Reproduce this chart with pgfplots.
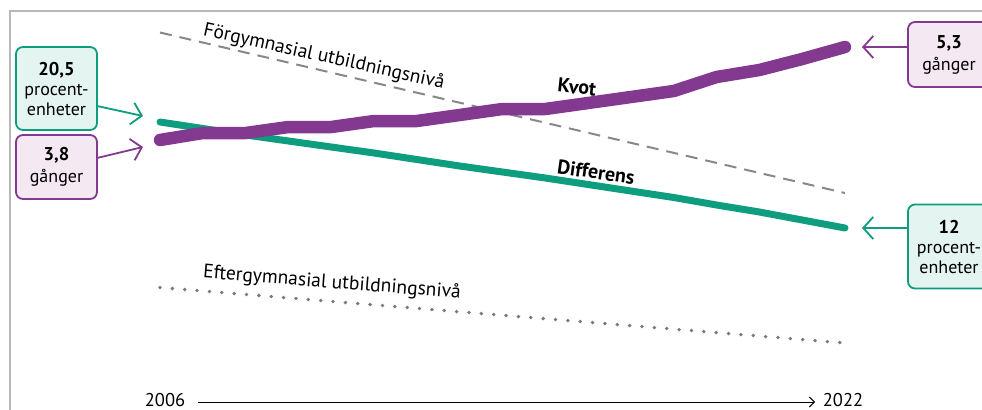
\documentclass[border=0pt]{standalone}
\usepackage{pgfplots}
\pgfplotsset{compat=1.18}
\usepackage{fontspec}
\setmainfont{PT Sans}
\usetikzlibrary{arrows.meta}
\definecolor{kv}{HTML}{833990}
\definecolor{df}{HTML}{0E9E7F}
\definecolor{kvfill}{HTML}{F4E8F2}
\definecolor{dffill}{HTML}{E4F4F0}
\definecolor{fr}{HTML}{B8B8B8}
\definecolor{gl}{HTML}{888888}
\definecolor{gd}{HTML}{7A7A7A}
\begin{document}
\begin{tikzpicture}
% annotation layer in pixel coordinates
\begin{axis}[name=pix,width=982bp,height=410bp,scale only axis,
  xmin=0,xmax=982,ymin=0,ymax=410,y dir=reverse,hide axis,clip=false]
\draw[fr,line width=1.5bp] (axis cs:10,410) -- (axis cs:10,11) -- (axis cs:982,11);
% left boxes
\node[draw=df,fill=dffill,rounded corners=7bp,line width=1.8bp,minimum width=81bp,minimum height=83bp,inner sep=0pt,align=center,font=\fontsize{18bp}{20bp}\selectfont]
  at (axis cs:56.5,88.5) {\textbf{\fontsize{18.5bp}{21bp}\selectfont 20,5}\\procent-\\enheter};
\node[draw=kv,fill=kvfill,rounded corners=7bp,line width=1.8bp,minimum width=81bp,minimum height=64bp,inner sep=0pt,align=center,font=\fontsize{18bp}{22bp}\selectfont]
  at (axis cs:56.5,167) {\textbf{\fontsize{18.5bp}{20bp}\selectfont 3,8}\\gånger};
% right boxes
\node[draw=kv,fill=kvfill,rounded corners=7bp,line width=1.8bp,minimum width=82bp,minimum height=65bp,inner sep=0pt,align=center,font=\fontsize{18bp}{22bp}\selectfont]
  at (axis cs:949,54.5) {\textbf{\fontsize{18.5bp}{20bp}\selectfont 5,3}\\gånger};
\node[draw=df,fill=dffill,rounded corners=7bp,line width=1.8bp,minimum width=82bp,minimum height=84bp,inner sep=0pt,align=center,font=\fontsize{18bp}{20bp}\selectfont]
  at (axis cs:949,246.5) {\textbf{\fontsize{18.5bp}{21bp}\selectfont 12}\\procent-\\enheter};
% arrows
\draw[df,line width=1.8bp,-{Straight Barb[length=10bp,width=22bp,line width=1.8bp]}] (axis cs:97,106) -- (axis cs:143,116);
\draw[kv,line width=1.8bp,-{Straight Barb[length=10bp,width=22bp,line width=1.8bp]}] (axis cs:97,158) -- (axis cs:143,147);
\draw[kv,line width=1.8bp,-{Straight Barb[length=10bp,width=22bp,line width=1.8bp]}] (axis cs:908,47) -- (axis cs:862,47);
\draw[df,line width=1.8bp,-{Straight Barb[length=10bp,width=22bp,line width=1.8bp]}] (axis cs:908,228) -- (axis cs:862,228);
% labels
\node[rotate=-12.5,font=\fontsize{19.5bp}{21bp}\selectfont] at (axis cs:324,57) {Förgymnasial utbildningsnivå};
\node[rotate=-4.5,font=\fontsize{19.5bp}{21bp}\selectfont] at (axis cs:332,283) {Eftergymnasial utbildningsnivå};
\node[rotate=-6,font=\fontsize{20bp}{21bp}\selectfont\bfseries] at (axis cs:577,87) {Kvot};
\node[rotate=-8,font=\fontsize{20bp}{21bp}\selectfont\bfseries] at (axis cs:596,172) {Differens};
% time axis
\node[font=\fontsize{18.5bp}{20bp}\selectfont] at (axis cs:165,400) {2006};
\node[font=\fontsize{18.5bp}{20bp}\selectfont] at (axis cs:843,400) {2022};
\draw[black,line width=1bp,-{Straight Barb[length=5bp,width=10bp,line width=1bp]}] (axis cs:198,402) -- (axis cs:815,402);
\end{axis}
% data layer in years
\begin{axis}[width=982bp,height=410bp,scale only axis,
  xmin=2002.2628,xmax=2025.2,ymin=0,ymax=410,y dir=reverse,hide axis,clip=false]
\addplot[gl,line width=2bp,dash pattern=on 12bp off 8bp] coordinates {(2006,32.5) (2022,193)};
\addplot[gd,line width=3.8bp,line cap=round,dash pattern=on 0bp off 12.4bp] coordinates {(2006,287.5) (2022,343)};
\addplot[df,line width=7bp,line cap=round,line join=round] coordinates {
(2006,122) (2007,128.5) (2008,135) (2009,141) (2010,147) (2011,153) (2012,159.5) (2013,166)
(2014,172) (2015,178) (2016,184.5) (2017,191) (2018,197.5) (2019,205) (2020,212) (2021,220) (2022,228)};
\addplot[kv,line width=12.5bp,line cap=round,line join=round] coordinates {
(2006,140) (2007,133) (2008,133) (2009,127) (2010,127) (2011,121) (2012,121) (2013,115)
(2014,109) (2015,109) (2016,103) (2017,97) (2018,91) (2019,77) (2020,70) (2021,59) (2022,47)};
\end{axis}
\pgfresetboundingbox
\path (pix.south west) rectangle (pix.north east);
\end{tikzpicture}
\end{document}
